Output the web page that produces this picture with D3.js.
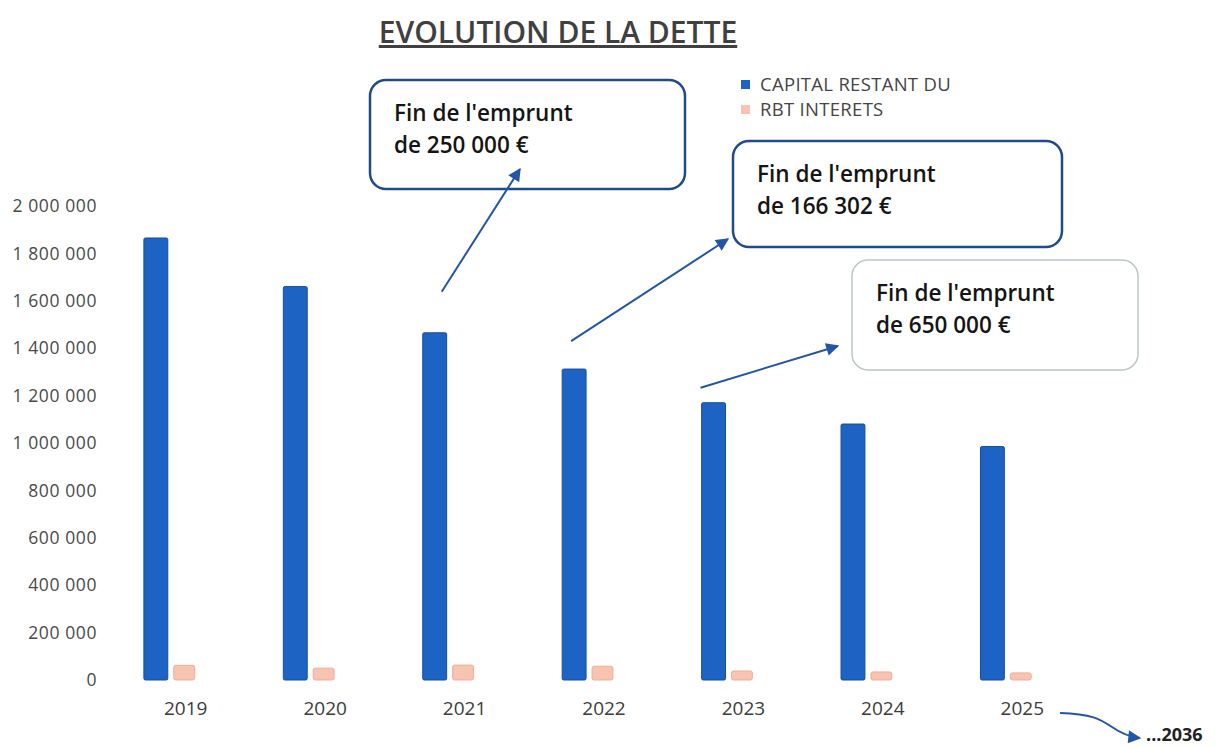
<!DOCTYPE html>
<html>
<head>
<meta charset="utf-8">
<script src="https://cdn.jsdelivr.net/npm/d3@7"></script>
<style>
  body { margin: 0; background: #fff; }
  svg { display: block; font-family: "Open Sans", Lato, sans-serif; }
</style>
</head>
<body>
<div id="chart"></div>
<script>
// data
var years = ["2019", "2020", "2021", "2022", "2023", "2024", "2025"];
var capitalRestant = [1865000, 1660000, 1465000, 1312000, 1170000, 1080000, 985000];
var rbtInterets = [62000, 50000, 63000, 58000, 38000, 34000, 30000];
var yTicks = [0, 200000, 400000, 600000, 800000, 1000000, 1200000, 1400000, 1600000, 1800000, 2000000];
var seriesNames = ["CAPITAL RESTANT DU", "RBT INTERETS"];
var seriesColors = ["#1c63c4", "#f7c4b2"];
var seriesStroke = ["#174f9e", "#f0ad98"];

var notes = [
  {year: "2021", line1: "Fin de l'emprunt", line2: "de 250 000 €"},
  {year: "2022", line1: "Fin de l'emprunt", line2: "de 166 302 €"},
  {year: "2023", line1: "Fin de l'emprunt", line2: "de 650 000 €"}
];

var width = 1216, height = 747;

var fr = d3.formatLocale({decimal: ",", thousands: " ", grouping: [3], currency: ["", " €"]});
var fmt = fr.format(",.0f");

var svg = d3.select("#chart").append("svg")
    .attr("width", width)
    .attr("height", height);

var defs = svg.append("defs");
defs.append("marker")
    .attr("id", "head")
    .attr("viewBox", "0 0 10 10")
    .attr("refX", 9).attr("refY", 5)
    .attr("markerWidth", 15).attr("markerHeight", 13)
    .attr("markerUnits", "userSpaceOnUse")
    .attr("orient", "auto")
  .append("path")
    .attr("d", "M0,0 L10,5 L0,10 Z")
    .attr("fill", "#2456a8");

// scales
var x = d3.scaleBand()
    .domain(years)
    .range([116, 1092])
    .paddingInner(0.4)
    .paddingOuter(0.2);

// third slot stays empty, as in the original sheet
var x1 = d3.scaleBand()
    .domain(["capital", "interets", "vide"])
    .range([0, x.bandwidth()])
    .paddingInner(0.2);

var y = d3.scaleLinear()
    .domain([0, 2000000])
    .range([680, 206]);

// title
svg.append("text")
    .attr("x", 558).attr("y", 43)
    .attr("text-anchor", "middle")
    .attr("font-size", 30)
    .attr("font-weight", 600)
    .attr("fill", "#404040")
    .attr("text-decoration", "underline")
    .text("EVOLUTION DE LA DETTE");

// y axis
var yAxis = svg.append("g")
    .attr("transform", "translate(105,0)")
    .call(d3.axisLeft(y).tickValues(yTicks).tickFormat(fmt).tickSize(0).tickPadding(8));
yAxis.select(".domain").remove();
yAxis.selectAll("text")
    .attr("font-size", 17.5)
    .attr("font-family", "'Open Sans', sans-serif")
    .attr("letter-spacing", 0.6)
    .attr("fill", "#4a4a4a");

// x axis
var xAxis = svg.append("g")
    .attr("transform", "translate(0,680)")
    .call(d3.axisBottom(x).tickSize(0).tickPadding(22));
xAxis.select(".domain").remove();
xAxis.selectAll("text")
    .attr("font-size", 19)
    .attr("font-family", "'Open Sans', sans-serif")
    .attr("fill", "#3c3c3c");

// bars
var groups = svg.append("g").selectAll("g")
    .data(years)
    .enter().append("g")
    .attr("transform", function(d) { return "translate(" + x(d) + ",0)"; });

groups.append("rect")
    .attr("x", x1("capital"))
    .attr("width", x1.bandwidth())
    .attr("y", function(d, i) { return y(capitalRestant[i]); })
    .attr("height", function(d, i) { return y(0) - y(capitalRestant[i]); })
    .attr("rx", 1.5)
    .attr("fill", seriesColors[0])
    .attr("stroke", seriesStroke[0])
    .attr("stroke-width", 1);

groups.append("rect")
    .attr("x", x1("interets"))
    .attr("width", x1.bandwidth() - 3)
    .attr("y", function(d, i) { return y(rbtInterets[i]); })
    .attr("height", function(d, i) { return y(0) - y(rbtInterets[i]); })
    .attr("rx", 2)
    .attr("fill", seriesColors[1])
    .attr("stroke", seriesStroke[1])
    .attr("stroke-width", 1);

// legend
var legend = svg.append("g").selectAll("g")
    .data(seriesNames)
    .enter().append("g")
    .attr("transform", function(d, i) { return "translate(741," + (80 + i * 25) + ")"; });
legend.append("rect")
    .attr("width", 9).attr("height", 9)
    .attr("fill", function(d, i) { return seriesColors[i]; });
legend.append("text")
    .attr("x", 19).attr("y", 5)
    .attr("dy", "0.35em")
    .attr("font-size", 18.5)
    .attr("letter-spacing", 0.3)
    .attr("fill", "#454545")
    .text(function(d) { return d; });

// annotation boxes
var boxes = [
  {x: 370, y: 80, w: 315, h: 109, stroke: "#1f4a8c", sw: 2.5},
  {x: 733, y: 141, w: 329, h: 106, stroke: "#1f4a8c", sw: 2.5},
  {x: 852, y: 260, w: 286, h: 110, stroke: "#b9c7c2", sw: 1.5}
];
var tips = [[520, 169], [728, 239], [838, 346]];

notes.forEach(function(n, i) {
  var b = boxes[i];

  svg.append("rect")
      .attr("x", b.x).attr("y", b.y)
      .attr("width", b.w).attr("height", b.h)
      .attr("rx", 16)
      .attr("fill", "#fff")
      .attr("stroke", b.stroke)
      .attr("stroke-width", b.sw);

  var t = svg.append("text")
      .attr("font-size", 22.5)
      .attr("font-weight", 600)
      .attr("fill", "#151515");
  t.append("tspan").attr("x", b.x + 24).attr("y", b.y + 41).text(n.line1);
  t.append("tspan").attr("x", b.x + 24).attr("y", b.y + 73).text(n.line2);
});

// arrows drawn over the boxes
notes.forEach(function(n, i) {
  var i2 = years.indexOf(n.year);
  var tx = x(n.year) + x1("capital") + x1.bandwidth() / 2 + 7 - i * 10;
  var ty = y(capitalRestant[i2]) - 41 + i * 13;
  svg.append("line")
      .attr("x1", tx).attr("y1", ty)
      .attr("x2", tips[i][0]).attr("y2", tips[i][1])
      .attr("stroke", "#2456a8")
      .attr("stroke-width", 2)
      .attr("marker-end", "url(#head)");
});

// continuation arrow to 2036
svg.append("path")
    .attr("d", "M1060,713 C1092,714 1100,719 1112,727 C1122,734 1130,737 1140,738")
    .attr("fill", "none")
    .attr("stroke", "#2456a8")
    .attr("stroke-width", 2)
    .attr("marker-end", "url(#head)");

svg.append("text")
    .attr("x", 1146).attr("y", 741)
    .attr("font-size", 18)
    .attr("font-weight", "bold")
    .attr("fill", "#222")
    .text("...2036");
</script>
</body>
</html>
